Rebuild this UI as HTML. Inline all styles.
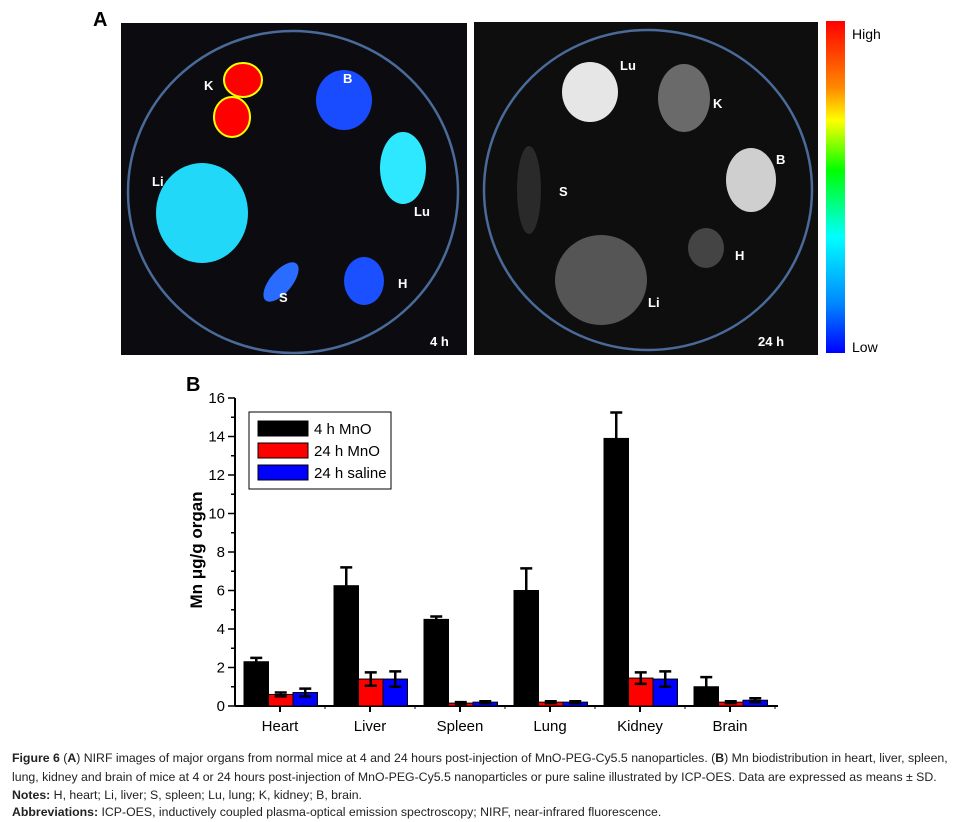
<!DOCTYPE html>
<html><head><meta charset="utf-8"><style>
body{margin:0;background:#fff;width:964px;height:822px;overflow:hidden;position:relative;font-family:"Liberation Sans",sans-serif}
.cap{position:absolute;left:12px;font-family:"Liberation Sans",sans-serif;font-size:12.3px;color:#222;white-space:nowrap}
</style></head><body>
<svg width="964" height="740" style="position:absolute;left:0;top:0">
<defs>
<linearGradient id="cb" x1="0" y1="0" x2="0" y2="1">
<stop offset="0" stop-color="#f00"/><stop offset=".2" stop-color="#f80"/><stop offset=".3" stop-color="#ff0"/><stop offset=".45" stop-color="#0f0"/><stop offset=".65" stop-color="#0ff"/><stop offset=".85" stop-color="#08f"/><stop offset="1" stop-color="#00f"/>
</linearGradient>
</defs>
<text x="93" y="26" font-size="20" font-weight="bold">A</text>
<g>
<rect x="121" y="23" width="346" height="332" fill="#0c0c10"/>
<ellipse cx="293" cy="192" rx="165" ry="161" fill="none" stroke="#4a6a9a" stroke-width="2.5"/>
<ellipse cx="243" cy="80" rx="19" ry="17" fill="#f00" stroke="#ff0" stroke-width="2"/>
<ellipse cx="232" cy="117" rx="18" ry="20" fill="#f00" stroke="#ff0" stroke-width="2"/>
<ellipse cx="344" cy="100" rx="28" ry="30" fill="#1a4cff"/>
<ellipse cx="403" cy="168" rx="23" ry="36" fill="#2ee8ff"/>
<ellipse cx="202" cy="213" rx="46" ry="50" fill="#22d8f8"/>
<ellipse cx="281" cy="282" rx="11" ry="24" transform="rotate(40 281 282)" fill="#2a6cff"/>
<ellipse cx="364" cy="281" rx="20" ry="24" fill="#1a50ff"/>
<g fill="#fff" font-size="13" font-weight="bold">
<text x="204" y="90">K</text><text x="343" y="83">B</text><text x="152" y="186">Li</text><text x="414" y="216">Lu</text><text x="279" y="302">S</text><text x="398" y="288">H</text><text x="430" y="346">4 h</text></g>
</g>
<g>
<rect x="474" y="22" width="344" height="333" fill="#0e0e0e"/>
<ellipse cx="648" cy="190" rx="164" ry="160" fill="none" stroke="#4a6a9a" stroke-width="2.5"/>
<ellipse cx="590" cy="92" rx="28" ry="30" fill="#e6e6e6"/>
<ellipse cx="684" cy="98" rx="26" ry="34" fill="#6a6a6a"/>
<ellipse cx="529" cy="190" rx="12" ry="44" fill="#2a2a2a"/>
<ellipse cx="751" cy="180" rx="25" ry="32" fill="#cfcfcf"/>
<ellipse cx="601" cy="280" rx="46" ry="45" fill="#555"/>
<ellipse cx="706" cy="248" rx="18" ry="20" fill="#444"/>
<g fill="#fff" font-size="13" font-weight="bold">
<text x="620" y="70">Lu</text><text x="713" y="108">K</text><text x="559" y="196">S</text><text x="776" y="164">B</text><text x="735" y="260">H</text><text x="648" y="307">Li</text><text x="758" y="346">24 h</text></g>
</g>
<g>
<rect x="826" y="21" width="19" height="332" fill="url(#cb)"/>
<text x="852" y="39" font-size="14">High</text>
<text x="852" y="352" font-size="14">Low</text>
</g>
<text x="186" y="391" font-size="20" font-weight="bold">B</text>
<g id="chart"></g>
</svg>
<div class="cap" style="top:751px"><b>Figure 6</b> (<b>A</b>) NIRF images of major organs from normal mice at 4 and 24 hours post-injection of MnO-PEG-Cy5.5 nanoparticles. (<b>B</b>) Mn biodistribution in heart, liver, spleen,</div>
<div class="cap" style="top:770px">lung, kidney and brain of mice at 4 or 24 hours post-injection of MnO-PEG-Cy5.5 nanoparticles or pure saline illustrated by ICP-OES. Data are expressed as means ± SD.</div>
<div class="cap" style="top:788px"><b>Notes:</b> H, heart; Li, liver; S, spleen; Lu, lung; K, kidney; B, brain.</div>
<div class="cap" style="top:805px"><b>Abbreviations:</b> ICP-OES, inductively coupled plasma-optical emission spectroscopy; NIRF, near-infrared fluorescence.</div>
<script>
const categories=["Heart","Liver","Spleen","Lung","Kidney","Brain"];
const seriesNames=["4 h MnO","24 h MnO","24 h saline"];
const mno4=[2.3,6.25,4.5,6.0,13.9,1.0];
const mno4Err=[0.2,0.95,0.15,1.15,1.35,0.5];
const mno24=[0.6,1.4,0.15,0.2,1.45,0.2];
const mno24Err=[0.1,0.35,0.05,0.05,0.3,0.05];
const saline=[0.7,1.4,0.2,0.2,1.4,0.3];
const salineErr=[0.2,0.4,0.05,0.05,0.4,0.1];
const yTicks=[0,2,4,6,8,10,12,14,16];
const colors=["#000","#f00","#00f"];
const NS="http://www.w3.org/2000/svg";
const g=document.getElementById('chart');
const x0=235,x1=778,yb=706,yt=398;
const y=v=>yb-(v/16)*(yb-yt);
const cx=i=>280+i*90;
function mk(t,a,p){const e=document.createElementNS(NS,t);for(const k in a)e.setAttribute(k,a[k]);(p||g).appendChild(e);return e;}
const ax=mk('g',{});


mk('line',{x1:x0,y1:yt,x2:x0,y2:yb,stroke:'#000','stroke-width':2},ax);
mk('line',{x1:x0,y1:yb,x2:x1,y2:yb,stroke:'#000','stroke-width':2},ax);
for(let v=0;v<=16;v++){mk('line',{x1:x0-(v%2?4:7),y1:y(v),x2:x0,y2:y(v),stroke:'#000','stroke-width':1.5},ax);}
yTicks.forEach(v=>{const t=mk('text',{x:x0-10,y:y(v)+5,'font-size':15,'text-anchor':'end'},ax);t.textContent=v;

});
const yt2=mk('text',{x:0,y:0,'font-size':17,'font-weight':'bold','text-anchor':'middle',transform:'translate(202,550) rotate(-90)'},ax);yt2.textContent='Mn μg/g organ';


const series=[[mno4,mno4Err],[mno24,mno24Err],[saline,salineErr]];
categories.forEach((c,i)=>{
  mk('line',{x1:cx(i),y1:yb,x2:cx(i),y2:yb+6,stroke:'#000','stroke-width':2},ax);
  mk('line',{x1:cx(i)+45,y1:yb,x2:cx(i)+45,y2:yb+3,stroke:'#000','stroke-width':1},ax);
  const t=mk('text',{x:cx(i),y:731,'font-size':15,'text-anchor':'middle'},ax);t.textContent=c;
  
  
  series.forEach((s,j)=>{
    const bx=cx(i)-36+j*24.5, v=s[0][i], e=s[1][i];
    const r=mk('rect',{x:bx,y:y(v),width:24.5,height:yb-y(v),fill:colors[j],stroke:'#000','stroke-width':1});
    
    
    const m=bx+12.25;
    const eb=mk('path',{d:`M${m} ${y(v)}V${y(v+e)}M${m-6} ${y(v+e)}H${m+6}`+(j>0?`M${m} ${y(v)}V${y(v-e)}M${m-6} ${y(v-e)}H${m+6}`:''),stroke:'#000','stroke-width':2.5,fill:'none'});
    
    
  });
});
const lg=mk('g',{});


mk('rect',{x:249,y:412,width:142,height:77,fill:'#fff',stroke:'#000','stroke-width':1},lg);
seriesNames.forEach((n,j)=>{
  mk('rect',{x:258,y:421+j*22,width:50,height:15,fill:colors[j],stroke:'#000','stroke-width':1},lg);
  const t=mk('text',{x:314,y:434+j*22,'font-size':15},lg);t.textContent=n;
  
  
});
</script>
</body></html>
